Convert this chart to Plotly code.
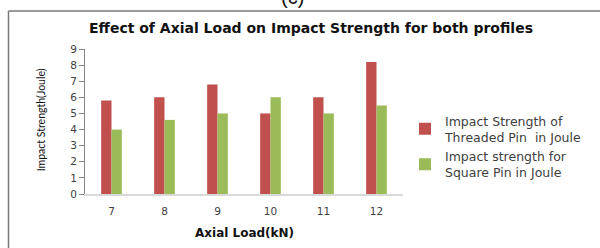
import plotly.graph_objects as go

loads = ["7", "8", "9", "10", "11", "12"]
threaded = [5.8, 6.0, 6.8, 5.0, 6.0, 8.2]
square = [4.0, 4.6, 5.0, 6.0, 5.0, 5.5]
y_ticks = [0, 1, 2, 3, 4, 5, 6, 7, 8, 9]
series_names = ["Impact Strength of<br>Threaded Pin  in Joule",
                "Impact strength for<br>Square Pin in Joule"]

fig = go.Figure()
fig.add_trace(go.Bar(x=loads, y=threaded, name=series_names[0],
                     marker=dict(color="#C0504D", line=dict(width=0))))
fig.add_trace(go.Bar(x=loads, y=square, name=series_names[1],
                     marker=dict(color="#9BBB59", line=dict(width=0))))

L, T, W, H = 85, 49, 320, 145
def px(x):
    return (x - L) / W
def py(y):
    return (T + H - y) / H

fig.update_layout(
    width=600, height=248,
    margin=dict(l=L, r=600 - L - W, t=T, b=248 - T - H, pad=0),
    paper_bgcolor="white", plot_bgcolor="white",
    barmode="group", bargap=0.61, bargroupgap=0,
    font=dict(family="DejaVu Sans", color="#404040"),
    title=dict(text="<b>Effect of Axial Load on Impact Strength for both profiles</b>",
               x=311/600, xanchor="center", y=1 - 28/248, yanchor="middle",
               xref="container", yref="container",
               font=dict(family="DejaVu Sans", size=14, color="#111111")),
    showlegend=True,
    legend=dict(x=px(407), y=py(106), xanchor="left", yanchor="top",
                font=dict(family="DejaVu Sans", size=12.5, color="#404040"),
                tracegroupgap=0, itemwidth=30, bgcolor="rgba(0,0,0,0)"),
    xaxis=dict(showgrid=False, showline=True, linecolor="#D9D9D9", linewidth=2,
               ticks="outside", ticklen=6, tickcolor="rgba(0,0,0,0)",
               tickfont=dict(family="DejaVu Sans", size=10.5, color="#404040")),
    yaxis=dict(range=[0, 9], tickvals=y_ticks, showgrid=False, showline=True,
               linecolor="#868686", linewidth=1, ticks="outside", ticklen=5,
               tickcolor="#868686",
               tickfont=dict(family="DejaVu Sans", size=10.5, color="#404040")),
    annotations=[
        dict(text="<b>Axial Load(kN)</b>", xref="paper", yref="paper",
             x=px(246), y=py(233), xanchor="center", yanchor="middle",
             showarrow=False, font=dict(family="DejaVu Sans", size=12, color="#111111")),
        dict(text="Impact Strength(Joule)", xref="paper", yref="paper",
             x=px(41), y=py(120), xanchor="center", yanchor="middle", textangle=-90,
             showarrow=False, font=dict(family="Lato", size=10.5, color="#111111")),
        dict(text="(c)", xref="paper", yref="paper",
             x=px(294), y=py(10), xanchor="center", yanchor="bottom",
             showarrow=False, font=dict(family="Liberation Sans", size=20, color="#111111")),
    ],
    shapes=[
        dict(type="line", xref="paper", yref="paper", x0=px(8), x1=px(8),
             y0=py(11), y1=py(260), line=dict(color="#777777", width=1.5)),
        dict(type="line", xref="paper", yref="paper", x0=px(8), x1=px(610),
             y0=py(11), y1=py(11), line=dict(color="#777777", width=1.5)),
    ],
)

fig.write_html("out.html", config={"displayModeBar": False},
               post_script="document.body.style.margin='0px';document.body.style.padding='0px';")
